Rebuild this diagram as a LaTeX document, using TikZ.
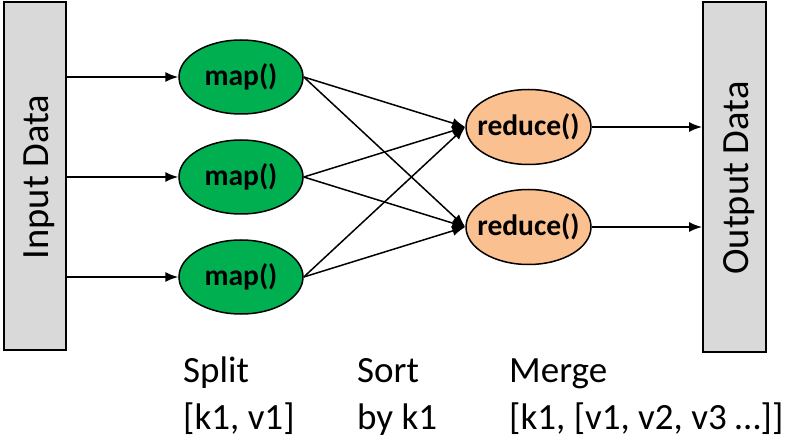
\documentclass[tikz,border=0pt]{standalone}
\usepackage{fontspec}
\setmainfont{Carlito}
\usetikzlibrary{arrows.meta,shapes.geometric}
\definecolor{boxgray}{RGB}{217,217,217}
\definecolor{mapgreen}{RGB}{0,176,80}
\definecolor{redpeach}{RGB}{250,192,144}
\tikzset{
  databox/.style={draw=black,line width=2pt,fill=boxgray,minimum width=62pt,inner sep=0pt},
  mapnode/.style={ellipse,draw=black,line width=1.5pt,fill=mapgreen,minimum width=124pt,minimum height=74pt,inner sep=0pt,font=\fontsize{29.5}{32}\selectfont\bfseries},
  rednode/.style={ellipse,draw=black,line width=1.5pt,fill=redpeach,minimum width=125pt,minimum height=75pt,inner sep=0pt,font=\fontsize{29.5}{32}\selectfont\bfseries},
  arr/.style={line width=1.5pt,-{Latex[length=13pt,width=10pt]}},
  note/.style={anchor=base west,inner sep=0pt,font=\fontsize{37}{42}\selectfont}
}
\begin{document}
\begin{tikzpicture}[x=1pt,y=-1pt]
\useasboundingbox (0,0) rectangle (808,446);
\node[databox,minimum height=348pt] (input) at (35,176) {};
\node[rotate=90,font=\fontsize{38.5}{42}\selectfont] (inlabel) at (39,177) {Input Data};
\node[databox,minimum height=350pt,minimum width=63pt] (output) at (734.5,177) {};
\node[rotate=90,font=\fontsize{38.5}{42}\selectfont] (outlabel) at (739,178) {Output Data};
\node[mapnode] (m1) at (241,77) {\makebox[0pt]{map()}};
\node[mapnode] (m2) at (241,177) {\makebox[0pt]{map()}};
\node[mapnode] (m3) at (241,277) {\makebox[0pt]{map()}};
\node[rednode] (r1) at (528.5,127) {\makebox[0pt]{reduce()}};
\node[rednode] (r2) at (528.5,227) {\makebox[0pt]{reduce()}};
\foreach \m in {m1,m2,m3}{
  \draw[arr] (input.east |- \m.west) -- (\m.west);
  \draw[arr] (\m.east) -- (r1.west);
  \draw[arr] (\m.east) -- (r2.west);
}
\draw[arr] (r1.east) -- (output.west |- r1.east);
\draw[arr] (r2.east) -- (output.west |- r2.east);
\node[note] (split1) at (183,382) {Split};
\node[note] (split2) at (183,429) {[k1, v1]};
\node[note] (sort1) at (357,382) {Sort};
\node[note] (sort2) at (357,429) {by k1};
\node[note] (merge1) at (509,382) {Merge};
\node[note] (merge2) at (509,429) {[k1, [v1, v2, v3 …]]};
\end{tikzpicture}
\end{document}
